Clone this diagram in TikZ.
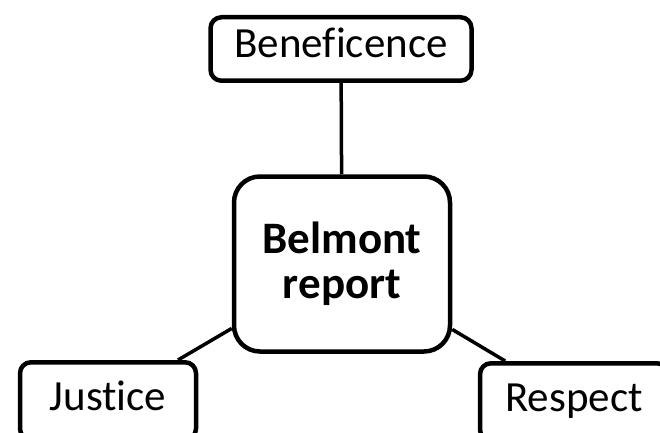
\documentclass[tikz,border=0pt]{standalone}
\usepackage{fontspec}
\setmainfont{Carlito}[Ligatures=NoCommon]

\begin{document}
\begin{tikzpicture}[line join=round,x=1pt,y=1pt,
    kasten/.style={draw=black,line width=4.5pt,rounded corners=11pt,fill=white,inner sep=0pt,
                   font=\fontsize{43}{46}\selectfont,text height=30pt,text depth=12pt},
    linie/.style={line width=3.5pt,color=black}]
     \useasboundingbox (0,0) rectangle (660,432); % Rahmen des Bildes
     \node[kasten,minimum width=216pt,minimum height=175pt,rounded corners=26pt,align=center,
           text height=,text depth=,font=\fontsize{45}{45}\selectfont\bfseries] (belmont) at (342,168) {Belmont\\report}; % Mitte
     \node[kasten,minimum width=261pt,minimum height=63.5pt] (benef) at (341,383) {Beneficence}; % oben
     \node[kasten,minimum width=176pt,minimum height=77.5pt] (justice) at (108,31) {Justice}; % links unten
     \node[kasten,minimum width=188pt,minimum height=77.5pt] (respect) at (574,30) {Respect}; % rechts unten

     \draw[linie] (benef) -- (belmont); % Verbindung oben
     \draw[linie] (belmont) -- (justice); % Verbindung links
     \draw[linie] (belmont) -- (respect); % Verbindung rechts
\end{tikzpicture}
\end{document}
